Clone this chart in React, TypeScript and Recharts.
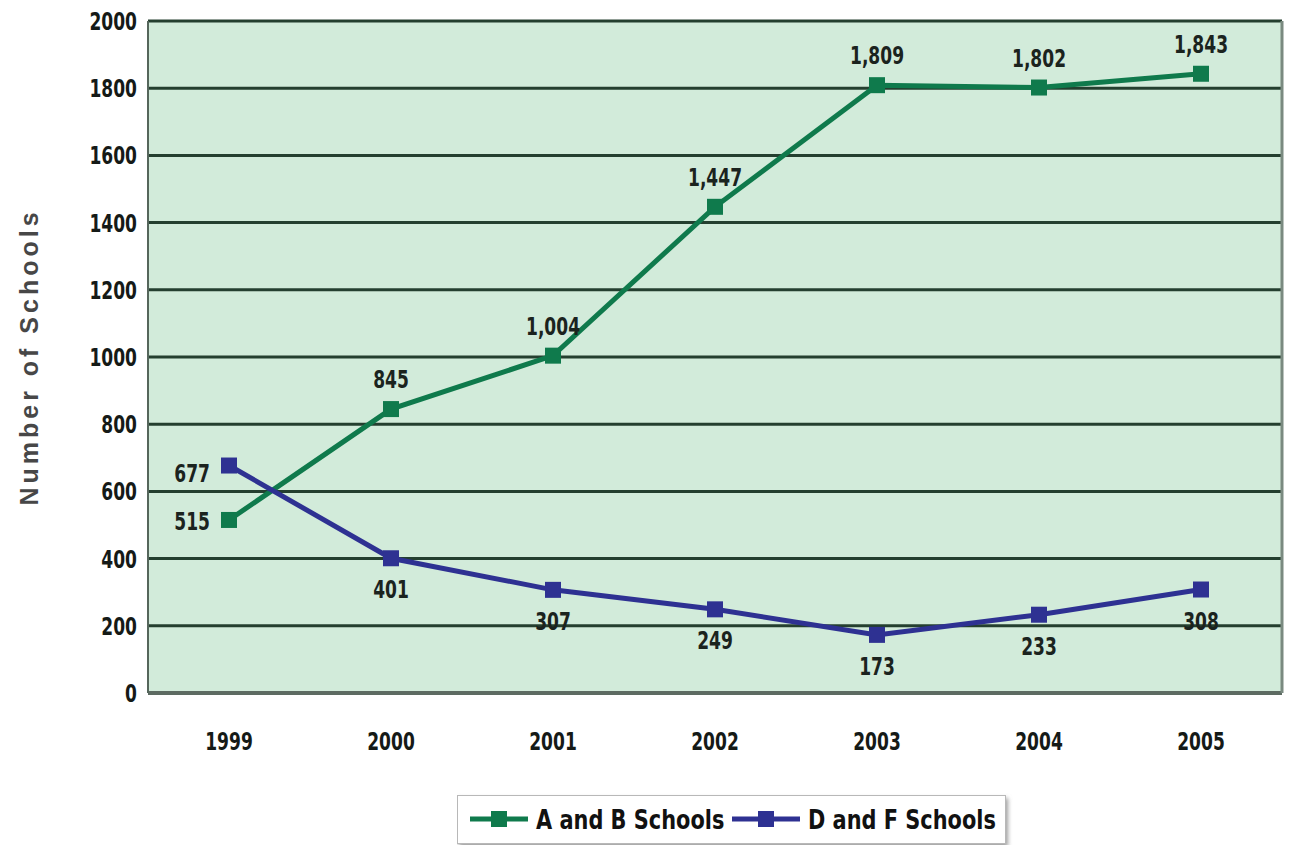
import {
  CartesianGrid,
  Legend,
  Line,
  LineChart,
  XAxis,
  YAxis,
  LabelList,
} from 'recharts';

const years = ['1999', '2000', '2001', '2002', '2003', '2004', '2005'];
const abSchools = [515, 845, 1004, 1447, 1809, 1802, 1843];
const dfSchools = [677, 401, 307, 249, 173, 233, 308];
const yTicks = [0, 200, 400, 600, 800, 1000, 1200, 1400, 1600, 1800, 2000];

const GREEN = '#0f7a4c';
const BLUE = '#2e3192';
const FONT = "'DejaVu Sans Condensed', 'Liberation Sans Narrow', 'Liberation Sans', Arial, sans-serif";

const data = years.map((year, i) => ({
  year,
  ab: abSchools[i],
  df: dfSchools[i],
}));

const fmt = (v: number) => v.toLocaleString('en-US');

// narrow text: scale horizontally around the anchor point
function NarrowText({ x, y, anchor, size = 25, sx = 0.76, fill = '#151a17', children }: any) {
  return (
    <text
      transform={`translate(${x},${y}) scale(${sx},1)`}
      textAnchor={anchor}
      fontSize={size}
      fontFamily={FONT}
      fontWeight="bold"
      fill={fill}
    >
      {children}
    </text>
  );
}

function XTick(props: any) {
  const { x, y, payload } = props;
  return <NarrowText x={x} y={y + 57} anchor="middle">{payload.value}</NarrowText>;
}

function YTick(props: any) {
  const { x, y, payload } = props;
  return <NarrowText x={x} y={y + 9} anchor="end">{payload.value}</NarrowText>;
}

function SquareDot(color: string) {
  return (props: any) => {
    const { cx, cy } = props;
    if (cx == null || cy == null) return null;
    return <rect key={`${color}-${cx}`} x={cx - 8} y={cy - 8} width={16} height={16} fill={color} />;
  };
}

function makeLabel(below: boolean) {
  return (props: any) => {
    const { x, y, value, index } = props;
    let tx = x;
    let ty = below ? y + 40 : y - 21;
    let anchor = 'middle';
    if (index === 0) {
      tx = x - 19;
      ty = below ? y + 16 : y + 10;
      anchor = 'end';
    }
    return (
      <NarrowText x={tx} y={ty} anchor={anchor} fill="#1b231e">
        {fmt(value)}
      </NarrowText>
    );
  };
}

function LegendBox() {
  const cy = 30;
  return (
    <svg width={560} height={56} style={{ marginLeft: 397, display: 'block' }}>
      <defs>
        <filter id="lgShadow" x="-5%" y="-20%" width="110%" height="150%">
          <feDropShadow dx="2" dy="3" stdDeviation="2" floodColor="#888" floodOpacity="0.8" />
        </filter>
      </defs>
      <rect x={0.5} y={6.5} width={548} height={48} fill="#fff" stroke="#b8b8b8" filter="url(#lgShadow)" />
      <line x1={13} y1={cy} x2={71} y2={cy} stroke={GREEN} strokeWidth={5} />
      <rect x={34} y={cy - 8} width={16} height={16} fill={GREEN} />
      <text
        transform={`translate(79,${cy + 10}) scale(0.86,1)`}
        fontSize={27}
        fontWeight="bold"
        fontFamily={FONT}
        fill="#111"
      >
        A and B Schools
      </text>
      <line x1={275} y1={cy} x2={343} y2={cy} stroke={BLUE} strokeWidth={5} />
      <rect x={301} y={cy - 8} width={16} height={16} fill={BLUE} />
      <text
        transform={`translate(351,${cy + 10}) scale(0.86,1)`}
        fontSize={27}
        fontWeight="bold"
        fontFamily={FONT}
        fill="#111"
      >
        D and F Schools
      </text>
    </svg>
  );
}

export default function App() {
  return (
    <div style={{ position: 'absolute', left: 0, top: 0, background: '#fff' }}>
      <LineChart
        width={1289}
        height={851}
        data={data}
        margin={{ top: 21, right: 6, left: 60, bottom: 6 }}
      >
        <CartesianGrid
          vertical={false}
          fill="#d2ebda"
          stroke="#243f2f"
          strokeWidth={3}
        />
        <XAxis
          dataKey="year"
          height={96}
          padding={{ left: 81, right: 81 }}
          tickLine={false}
          tickSize={0}
          tickMargin={0}
          axisLine={{ stroke: '#5d6b62', strokeWidth: 4 }}
          tick={<XTick />}
        />
        <YAxis
          domain={[0, 2000]}
          ticks={yTicks}
          width={88}
          tickLine={false}
          tickSize={0}
          tickMargin={11}
          axisLine={{ stroke: '#55665b', strokeWidth: 2 }}
          tick={<YTick />}
          label={{
            value: 'Number of Schools',
            angle: -90,
            position: 'insideLeft',
            offset: -31,
            style: {
              textAnchor: 'middle',
              fontSize: 25,
              fontFamily: "'Liberation Sans', Arial, sans-serif",
              fontWeight: 'bold',
              letterSpacing: 4,
              fill: '#474747',
            },
          }}
        />
        <YAxis
          yAxisId="right"
          orientation="right"
          width={1}
          domain={[0, 2000]}
          tick={false}
          tickLine={false}
          axisLine={{ stroke: '#7a8a80', strokeWidth: 3 }}
        />
        <Legend verticalAlign="bottom" align="left" height={56} content={() => <LegendBox />} />
        <Line
          type="linear"
          dataKey="ab"
          name="A and B Schools"
          stroke={GREEN}
          strokeWidth={5}
          dot={SquareDot(GREEN)}
          activeDot={false}
          isAnimationActive={false}
        >
          <LabelList dataKey="ab" content={makeLabel(false)} />
        </Line>
        <Line
          type="linear"
          dataKey="df"
          name="D and F Schools"
          stroke={BLUE}
          strokeWidth={5}
          dot={SquareDot(BLUE)}
          activeDot={false}
          isAnimationActive={false}
        >
          <LabelList dataKey="df" content={makeLabel(true)} />
        </Line>
      </LineChart>
    </div>
  );
}
